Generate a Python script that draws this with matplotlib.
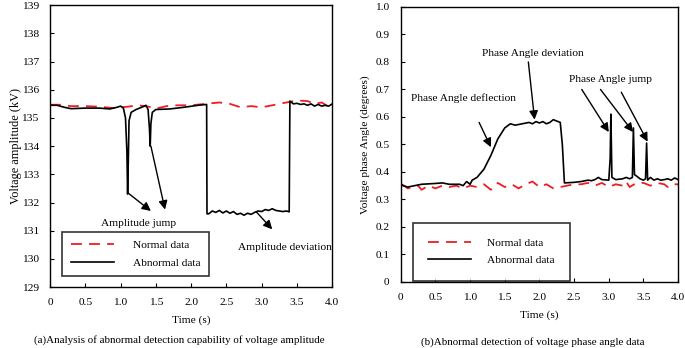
import matplotlib
matplotlib.use("Agg")
import matplotlib.pyplot as plt

plt.rcParams['font.family'] = ['Liberation Serif', 'DejaVu Serif']
plt.rcParams['font.size'] = 8.2

# ---------------- data (a) voltage amplitude ----------------
amp_normal_t = [0, 0.15, 0.3, 0.5, 0.7, 0.9, 1.1, 1.25, 1.4, 1.5, 1.65, 1.8, 2.0, 2.2, 2.4,
                2.55, 2.7, 2.85, 3.0, 3.15, 3.35, 3.5, 3.65, 3.75, 3.85, 3.95, 4.0]
amp_normal_v = [135.47, 135.47, 135.42, 135.42, 135.40, 135.35, 135.40, 135.45, 135.40, 135.33,
                135.42, 135.45, 135.45, 135.50, 135.55, 135.50, 135.38, 135.42, 135.38, 135.45,
                135.55, 135.62, 135.60, 135.50, 135.55, 135.40, 135.42]

amp_abn_t = [0.00, 0.10, 0.20, 0.30, 0.50, 0.70, 0.85, 0.95, 1.00, 1.04, 1.07, 1.09, 1.10, 1.11,
             1.12, 1.15, 1.22, 1.30, 1.36, 1.39, 1.41, 1.42, 1.43, 1.45, 1.50, 1.70, 1.90, 2.10,
             2.22, 2.225, 2.25, 2.30, 2.35, 2.40, 2.45, 2.50, 2.55, 2.60, 2.65, 2.70, 2.75, 2.80,
             2.85, 2.90, 2.95, 3.00, 3.05, 3.10, 3.15, 3.20, 3.25, 3.30, 3.35, 3.39, 3.40, 3.45,
             3.50, 3.55, 3.60, 3.65, 3.70, 3.75, 3.80, 3.85, 3.90, 3.95, 4.00]
amp_abn_v = [135.45, 135.45, 135.38, 135.33, 135.35, 135.35, 135.32, 135.38, 135.42, 135.35,
             135.0, 133.8, 132.3, 133.5, 134.9, 135.2, 135.3, 135.38, 135.45, 135.3, 134.6, 134.0,
             134.8, 135.2, 135.3, 135.32, 135.38, 135.45, 135.48, 131.6, 131.6, 131.7, 131.65,
             131.72, 131.63, 131.7, 131.62, 131.68, 131.58, 131.62, 131.55, 131.62, 131.58, 131.65,
             131.7, 131.68, 131.75, 131.72, 131.78, 131.72, 131.7, 131.68, 131.7, 131.67, 135.6,
             135.5, 135.52, 135.48, 135.5, 135.45, 135.5, 135.42, 135.48, 135.42, 135.45, 135.42,
             135.5]

# ---------------- data (b) voltage phase angle ----------------
ph_normal_t = [0, 0.05, 0.1, 0.2, 0.25, 0.3, 0.4, 0.5, 0.6, 0.7, 0.8, 0.9, 1.0, 1.1, 1.2, 1.3,
               1.4, 1.5, 1.6, 1.7, 1.8, 1.9, 2.0, 2.1, 2.2, 2.3, 2.4, 2.5, 2.6, 2.7, 2.8, 2.9,
               3.0, 3.1, 3.2, 3.25, 3.3, 3.4, 3.5, 3.6, 3.7, 3.8, 3.85, 3.9, 4.0]
ph_normal_v = [0.355, 0.35, 0.34, 0.345, 0.35, 0.335, 0.35, 0.34, 0.35, 0.345, 0.35, 0.34, 0.35,
               0.345, 0.355, 0.335, 0.36, 0.345, 0.355, 0.34, 0.355, 0.365, 0.345, 0.355, 0.34,
               0.345, 0.35, 0.355, 0.355, 0.36, 0.35, 0.36, 0.345, 0.355, 0.35, 0.365, 0.345,
               0.36, 0.36, 0.35, 0.36, 0.355, 0.345, 0.355, 0.355]

ph_abn_t = [0, 0.03, 0.1, 0.2, 0.3, 0.5, 0.6, 0.7, 0.85, 0.9, 0.95, 1.0, 1.03, 1.1, 1.2, 1.3,
            1.4, 1.5, 1.58, 1.65, 1.75, 1.85, 1.9, 1.95, 2.0, 2.05, 2.1, 2.15, 2.2, 2.25, 2.3,
            2.33, 2.36, 2.5, 2.6, 2.7, 2.75, 2.8, 2.85, 2.9, 3.0, 3.02, 3.03, 3.045, 3.1, 3.2,
            3.25, 3.3, 3.34, 3.355, 3.37, 3.4, 3.45, 3.5, 3.53, 3.545, 3.56, 3.6, 3.65, 3.7,
            3.75, 3.8, 3.85, 3.9, 3.95, 4.0]
ph_abn_v = [0.36, 0.35, 0.345, 0.35, 0.355, 0.358, 0.36, 0.355, 0.355, 0.35, 0.365, 0.355, 0.37,
            0.38, 0.41, 0.46, 0.52, 0.56, 0.575, 0.57, 0.575, 0.58, 0.575, 0.583, 0.578, 0.583,
            0.575, 0.58, 0.59, 0.585, 0.58, 0.5, 0.36, 0.362, 0.365, 0.37, 0.368, 0.372, 0.38,
            0.372, 0.37, 0.45, 0.61, 0.38, 0.372, 0.375, 0.38, 0.375, 0.38, 0.56, 0.39, 0.385,
            0.375, 0.37, 0.375, 0.505, 0.37, 0.38, 0.37, 0.375, 0.37, 0.372, 0.375, 0.37,
            0.378, 0.372]

x_ticks = [0, 0.5, 1.0, 1.5, 2.0, 2.5, 3.0, 3.5, 4.0]
x_ticklabels = ['0', '0.5', '1.0', '1.5', '2.0', '2.5', '3.0', '3.5', '4.0']
amp_yticks = list(range(129, 140))
ph_yticks = [0, 0.1, 0.2, 0.3, 0.4, 0.5, 0.6, 0.7, 0.8, 0.9, 1.0]
ph_yticklabels = ['0', '0.1', '0.2', '0.3', '0.4', '0.5', '0.6', '0.7', '0.8', '0.9', '1.0']

fig = plt.figure(figsize=(6.85, 3.48), dpi=100)
ax1 = fig.add_axes([0.073, 0.175, 0.412, 0.810])
ax2 = fig.add_axes([0.585, 0.190, 0.405, 0.790])

red = '#ee1c24'
arrow = dict(arrowstyle='-|>', color='black', lw=1.0, mutation_scale=13, shrinkA=0, shrinkB=0)

# ---- panel a ----
ax1.plot(amp_normal_t, amp_normal_v, color=red, lw=1.3, dashes=(6, 4), label='Normal data')
ax1.plot(amp_abn_t, amp_abn_v, color='black', lw=1.2, label='Abnormal data')
ax1.set_xlim(0, 4)
ax1.set_ylim(129, 139)
ax1.set_xticks(x_ticks)
ax1.set_xticklabels(x_ticklabels)
ax1.set_yticks(amp_yticks)
ax1.set_xlabel('Time (s)', labelpad=6)
ax1.set_ylabel('Voltage amplitude (kV)', labelpad=0, fontsize=8.8)
ax1.annotate('', xy=(1.43, 131.7), xytext=(1.1, 132.35), arrowprops=arrow)
ax1.annotate('', xy=(1.63, 131.75), xytext=(1.43, 134.0), arrowprops=arrow)
ax1.text(1.25, 131.25, 'Amplitude jump', ha='center', va='center', zorder=10)
ax1.annotate('', xy=(3.15, 131.05), xytext=(2.92, 131.68), arrowprops=arrow)
ax1.text(3.33, 130.4, 'Amplitude deviation', ha='center', va='center')
fig.text(0.262, 0.023, '(a)Analysis of abnormal detection capability of voltage amplitude',
         ha='center', va='center', fontsize=7.9)

# ---- panel b ----
ax2.plot(ph_normal_t, ph_normal_v, color=red, lw=1.3, dashes=(6, 4), label='Normal data')
ax2.plot(ph_abn_t, ph_abn_v, color='black', lw=1.2, label='Abnormal data')
ax2.set_xlim(0, 4)
ax2.set_ylim(0, 1.0)
ax2.set_xticks(x_ticks)
ax2.set_xticklabels(x_ticklabels)
ax2.set_yticks(ph_yticks)
ax2.set_yticklabels(ph_yticklabels)
ax2.set_xlabel('Time (s)', labelpad=6)
ax2.set_ylabel('Voltage phase Angle (degrees)', labelpad=4)
ax2.text(0.9, 0.67, 'Phase Angle deflection', ha='center', va='center')
ax2.annotate('', xy=(1.30, 0.49), xytext=(1.13, 0.58), arrowprops=arrow)
ax2.text(1.91, 0.83, 'Phase Angle deviation', ha='center', va='center')
ax2.annotate('', xy=(1.93, 0.59), xytext=(1.84, 0.80), arrowprops=arrow)
ax2.text(3.03, 0.735, 'Phase Angle jump', ha='center', va='center')
ax2.annotate('', xy=(3.0, 0.545), xytext=(2.61, 0.70), arrowprops=arrow)
ax2.annotate('', xy=(3.35, 0.545), xytext=(2.88, 0.70), arrowprops=arrow)
ax2.annotate('', xy=(3.56, 0.51), xytext=(3.18, 0.69), arrowprops=arrow)
fig.text(0.778, 0.018, '(b)Abnormal detection of voltage phase angle data',
         ha='center', va='center', fontsize=7.9)

legend_opts = ((ax1, (0.043, 0.039), 0.75, 1.7), (ax2, (0.043, 0.004), 1.35, 1.4))
for ax, anchor, bpad, tpad in legend_opts:
    ax.tick_params(direction='in', length=3, width=0.8, pad=8)
    for s in ax.spines.values():
        s.set_linewidth(1.0)
    leg = ax.legend(loc='lower left', bbox_to_anchor=anchor, frameon=True, fancybox=False,
                    edgecolor='black', handlelength=3.8, handletextpad=tpad, borderpad=bpad,
                    labelspacing=0.65, borderaxespad=0)
    leg.get_frame().set_linewidth(1.2)
    leg.set_zorder(5)

fig.savefig('out.png', dpi=100)
